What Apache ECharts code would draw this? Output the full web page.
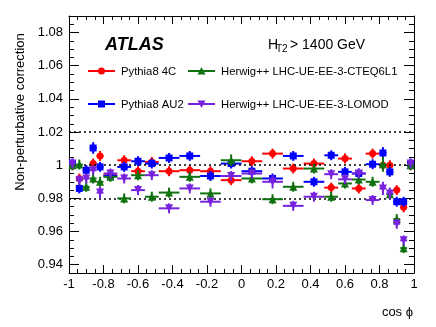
<!DOCTYPE html>
<html>
<head>
<meta charset="utf-8">
<script src="https://cdn.jsdelivr.net/npm/echarts@6/dist/echarts.min.js"></script>
<style>
  html, body { margin: 0; padding: 0; background: #fff; }
  #chart { width: 436px; height: 327px; }
</style>
</head>
<body>
<div id="chart"></div>
<script>
// bin edges in cos phi
var binEdges = [-1, -0.96, -0.92, -0.88, -0.84, -0.8, -0.72, -0.64, -0.56, -0.48, -0.36, -0.24, -0.12, 0,
  0.12, 0.24, 0.36, 0.48, 0.56, 0.64, 0.72, 0.8, 0.84, 0.88, 0.92, 0.96, 1];

var pythia4C = [1.000, 0.992, 0.997, 1.001, 1.0056, 0.994, 1.003, 0.9964, 1.002, 0.9964, 0.997, 0.9964, 0.991,
  1.0024, 1.007, 0.998, 1.001, 0.9865, 1.004, 0.986, 1.007, 1.000, 1.000, 0.985, 0.9746, 1.000];
var pythia4CErr = [0.003, 0.003, 0.003, 0.003, 0.003, 0.003, 0.003, 0.003, 0.003, 0.003, 0.003, 0.003, 0.003,
  0.003, 0.003, 0.003, 0.003, 0.003, 0.003, 0.003, 0.003, 0.003, 0.003, 0.003, 0.003, 0.003];

var pythiaAU2 = [1.001, 0.986, 0.997, 1.0104, 0.999, 0.9935, 0.999, 1.0024, 1.001, 1.0044, 1.0056, 0.9935, 1.001,
  0.9964, 0.992, 1.0056, 0.990, 1.006, 0.996, 0.995, 1.0006, 1.0074, 0.996, 0.978, 0.978, 1.001];
var pythiaAU2Err = [0.003, 0.003, 0.003, 0.0035, 0.003, 0.003, 0.003, 0.003, 0.003, 0.003, 0.003, 0.003, 0.003,
  0.003, 0.003, 0.003, 0.003, 0.003, 0.003, 0.003, 0.003, 0.0035, 0.003, 0.003, 0.003, 0.003];

var herwigCTEQ = [1.000, 1.0004, 0.987, 0.992, 0.990, 0.993, 0.980, 0.994, 0.981, 0.9835, 0.993, 0.983, 1.003,
  0.992, 0.9795, 0.987, 0.998, 0.981, 0.989, 0.9914, 0.990, 1.0006, 0.9825, 0.9675, 0.950, 1.000];
var herwigCTEQErr = [0.003, 0.003, 0.003, 0.003, 0.003, 0.003, 0.003, 0.003, 0.003, 0.003, 0.003, 0.003, 0.0035,
  0.003, 0.003, 0.003, 0.003, 0.003, 0.003, 0.003, 0.003, 0.0045, 0.003, 0.003, 0.003, 0.003];

var herwigLOMOD = [1.001, 0.991, 0.992, 0.997, 0.9835, 0.995, 0.992, 0.985, 0.994, 0.974, 0.986, 0.978, 0.9935,
  0.995, 0.990, 0.9755, 0.981, 0.9946, 0.9915, 0.995, 0.979, 0.986, 0.983, 0.9647, 0.9547, 1.001];
var herwigLOMODErr = [0.003, 0.003, 0.003, 0.003, 0.0035, 0.003, 0.003, 0.003, 0.003, 0.003, 0.003, 0.003, 0.003,
  0.003, 0.004, 0.003, 0.003, 0.003, 0.003, 0.003, 0.003, 0.004, 0.0035, 0.003, 0.003, 0.003];

var yTicks = [0.94, 0.96, 0.98, 1.0, 1.02, 1.04, 1.06, 1.08];
var refLines = [1.02, 1.0, 0.98];

var samples = [
  { name: 'Pythia8 4C', vals: pythia4C, errs: pythia4CErr, color: '#ff0000', symbol: 'circle', size: 7, rot: 0 },
  { name: 'Pythia8 AU2', vals: pythiaAU2, errs: pythiaAU2Err, color: '#0000ff', symbol: 'rect', size: 7, rot: 0 },
  { name: 'Herwig++ LHC-UE-EE-3-CTEQ6L1', vals: herwigCTEQ, errs: herwigCTEQErr, color: '#0f720f', symbol: 'triangle', size: 8, rot: 0 },
  { name: 'Herwig++ LHC-UE-EE-3-LOMOD', vals: herwigLOMOD, errs: herwigLOMODErr, color: '#7722dd', symbol: 'triangle', size: 8, rot: 180 }
];

var FONT = 'Liberation Sans, Arial, Helvetica, sans-serif';

function fmt(v) { return String(+v.toFixed(3)); }

function crossRenderer(color) {
  return function (params, api) {
    var x = api.value(0), y = api.value(1), lo = api.value(2), hi = api.value(3), e = api.value(4);
    var pL = api.coord([lo, y]), pR = api.coord([hi, y]);
    var pT = api.coord([x, y + e]), pB = api.coord([x, y - e]);
    return {
      type: 'group',
      children: [
        { type: 'line', shape: { x1: pL[0], y1: pL[1], x2: pR[0], y2: pR[1] }, style: { stroke: color, lineWidth: 2 } },
        { type: 'line', shape: { x1: pT[0], y1: pT[1], x2: pB[0], y2: pB[1] }, style: { stroke: color, lineWidth: 2 } }
      ]
    };
  };
}

var series = [];
samples.forEach(function (s, k) {
  var cross = [], pts = [];
  s.vals.forEach(function (v, i) {
    var lo = binEdges[i], hi = binEdges[i + 1], c = (lo + hi) / 2;
    cross.push([c, v, lo, hi, s.errs[i]]);
    pts.push([c, v]);
  });
  series.push({
    type: 'custom', name: s.name, renderItem: crossRenderer(s.color),
    data: cross, z: 2 + k * 2, silent: true, clip: false
  });
  var sc = {
    type: 'scatter', name: s.name, data: pts, symbol: s.symbol, symbolSize: s.size,
    symbolRotate: s.rot, itemStyle: { color: s.color, opacity: 1 }, z: 3 + k * 2, silent: true
  };
  if (k === 0) {
    sc.markLine = {
      silent: true, symbol: 'none', label: { show: false },
      lineStyle: { color: '#000', type: [2, 3], width: 1.5 },
      data: refLines.map(function (r) { return { yAxis: r }; })
    };
  }
  series.push(sc);
});

// legend drawn as graphics: line + marker + text
var legendPos = [[88, 71], [88, 104], [188, 71], [188, 104]];
var legendEls = [];
samples.forEach(function (s, k) {
  var p = legendPos[k];
  legendEls.push({ type: 'line', shape: { x1: p[0], y1: p[1], x2: p[0] + 27, y2: p[1] }, style: { stroke: s.color, lineWidth: 2 } });
  var shape;
  if (s.symbol === 'circle') {
    shape = { type: 'circle', shape: { cx: p[0] + 13.5, cy: p[1], r: 3.5 }, style: { fill: s.color } };
  } else if (s.symbol === 'rect') {
    shape = { type: 'rect', shape: { x: p[0] + 10, y: p[1] - 3.5, width: 7, height: 7 }, style: { fill: s.color } };
  } else {
    var cx = p[0] + 13.5, cy = p[1], d = s.rot ? -1 : 1;
    shape = { type: 'polygon', shape: { points: [[cx, cy - 4 * d], [cx - 4, cy + 3.5 * d], [cx + 4, cy + 3.5 * d]] }, style: { fill: s.color } };
  }
  legendEls.push(shape);
  legendEls.push({
    type: 'text', x: p[0] + 33, y: p[1] + 1,
    style: { text: s.name, font: '11.3px ' + FONT, fill: '#000', textVerticalAlign: 'middle' }
  });
});

var chart = echarts.init(document.getElementById('chart'));

var xCommon = {
  type: 'value', min: -1, max: 1, interval: 0.2,
  axisLine: { show: true, onZero: false, lineStyle: { color: '#000', width: 1 } },
  axisTick: { show: true, inside: true, length: 8, lineStyle: { color: '#000', width: 1 } },
  minorTick: { show: true, splitNumber: 4, length: 4, lineStyle: { color: '#000', width: 1 } },
  splitLine: { show: false }
};

function yAxisDef(pos, major) {
  var a = {
    type: 'value', position: pos, min: 0.935, max: 1.09,
    axisLine: { show: major, onZero: false, lineStyle: { color: '#000', width: 1 } },
    splitLine: { show: false }
  };
  if (major) {
    a.axisTick = { show: true, inside: true, length: 10, customValues: yTicks, lineStyle: { color: '#000', width: 1 } };
    a.axisLabel = pos === 'left'
      ? { show: true, customValues: yTicks, formatter: fmt, color: '#000', fontSize: 13, fontFamily: FONT, margin: 6 }
      : { show: false };
  } else {
    a.interval = 0.005;
    a.axisTick = { show: true, inside: true, length: 5, lineStyle: { color: '#000', width: 1 } };
    a.axisLabel = { show: false };
  }
  return a;
}

chart.setOption({
  animation: false,
  backgroundColor: '#fff',
  grid: { left: 69, right: 22, top: 16, bottom: 54, containLabel: false },
  xAxis: [
    Object.assign({}, xCommon, {
      position: 'bottom',
      axisLabel: { show: true, formatter: fmt, color: '#000', fontSize: 13, fontFamily: FONT, margin: 5 }
    }),
    Object.assign({}, xCommon, { position: 'top', axisLabel: { show: false } })
  ],
  yAxis: [
    yAxisDef('left', true),
    yAxisDef('left', false),
    yAxisDef('right', true),
    yAxisDef('right', false)
  ],
  series: series,
  graphic: [
    {
      type: 'text', x: 20, y: 112, rotation: Math.PI / 2,
      style: { text: 'Non-perturbative correction', font: '13px ' + FONT, fill: '#000', textAlign: 'center', textVerticalAlign: 'middle' }
    },
    {
      type: 'text', x: 413, y: 312,
      style: { text: 'cos ϕ', font: '13px ' + FONT, fill: '#000', textAlign: 'right', textVerticalAlign: 'middle' }
    },
    {
      type: 'text', x: 105, y: 45,
      style: { text: 'ATLAS', font: 'italic bold 18px ' + FONT, fill: '#000', textVerticalAlign: 'middle' }
    },
    {
      type: 'text', x: 268, y: 45,
      style: { text: 'H', font: '14px ' + FONT, fill: '#000', textVerticalAlign: 'middle' }
    },
    {
      type: 'text', x: 276, y: 49,
      style: { text: 'T2', font: '10px ' + FONT, fill: '#000', textVerticalAlign: 'middle' }
    },
    {
      type: 'text', x: 290, y: 45,
      style: { text: '> 1400 GeV', font: '14px ' + FONT, fill: '#000', textVerticalAlign: 'middle' }
    }
  ].concat(legendEls)
});
</script>
</body>
</html>
